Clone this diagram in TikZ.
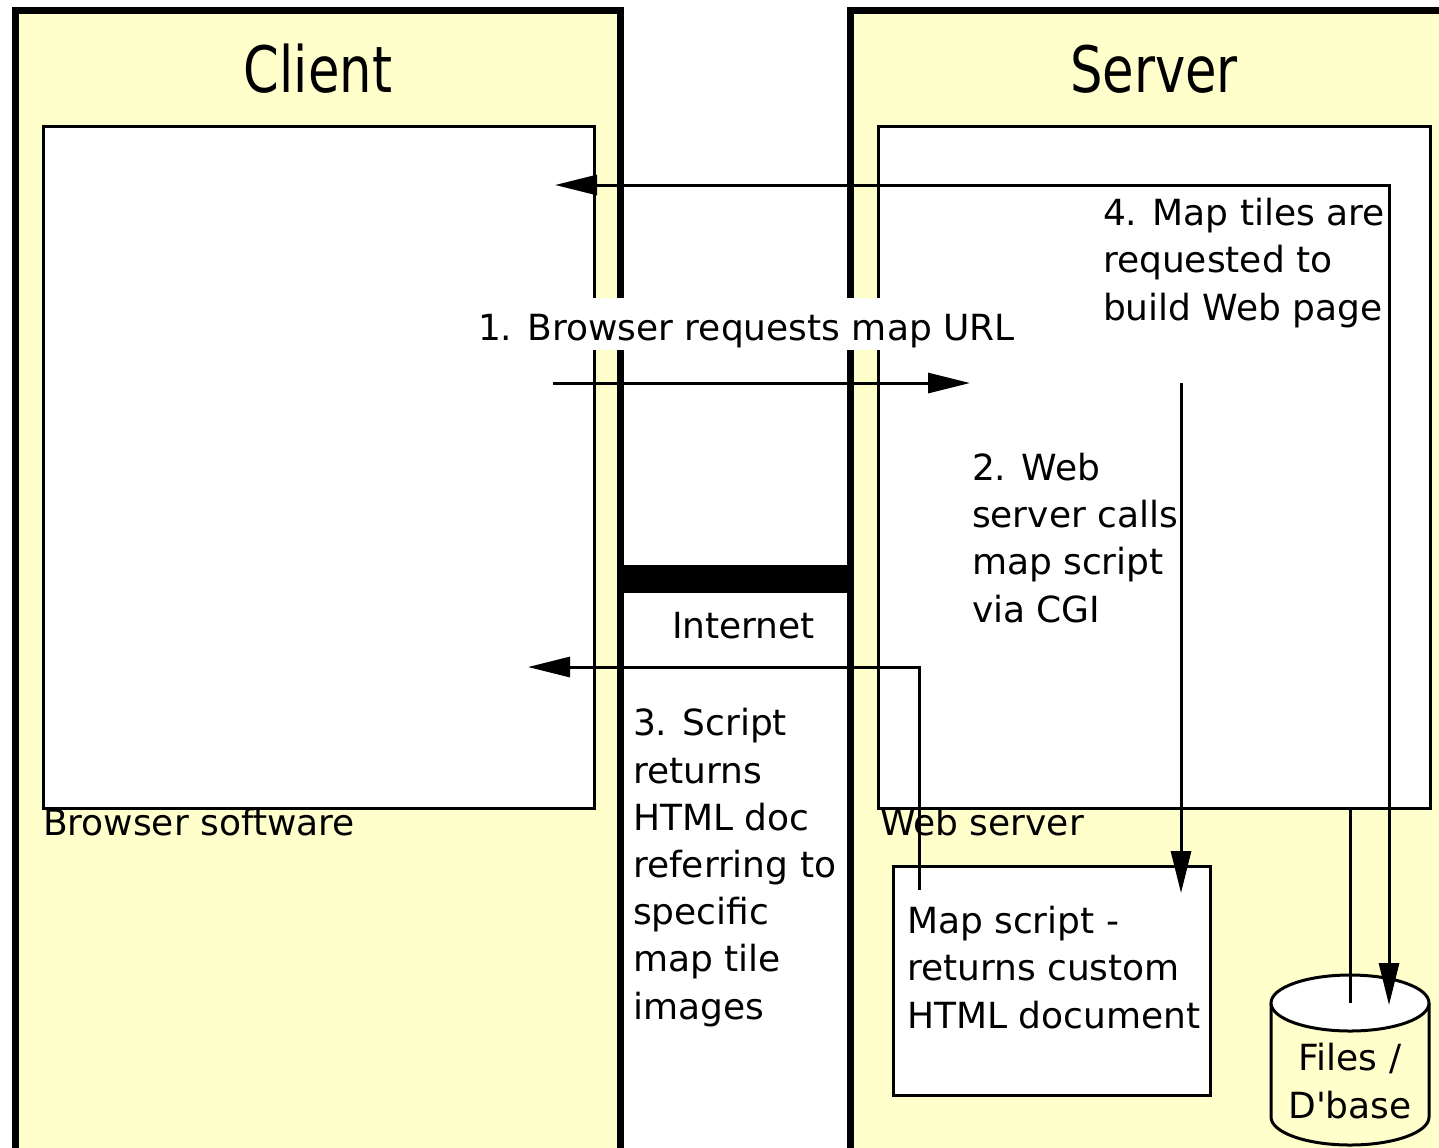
\documentclass[tikz,border=0pt]{standalone}
\usepackage{fontspec}
\setmainfont{DejaVu Sans}
\newfontfamily\titlefont[FakeStretch=0.8]{DejaVu Sans}
\usetikzlibrary{arrows.meta}
\definecolor{sideyellow}{RGB}{255,255,204}

\begin{document}
\begin{tikzpicture}[
        x=0.5pt,
        y=-0.5pt,
        >={Triangle[length=21pt,width=10pt]},
        every node/.style={font=\fontsize{18pt}{23.6pt}\selectfont, inner sep=0pt, outer sep=0pt},
        side/.style={draw, line width=3.5pt, fill=sideyellow, anchor=north west},
        softbox/.style={draw, line width=1.5pt, fill=white, anchor=north west},
        sidetitle/.style={font=\titlefont\fontsize{32pt}{38pt}\selectfont, anchor=base},
        txt/.style={anchor=base west, align=left},
        flow/.style={line width=1.5pt}
    ]
        \useasboundingbox (0,0) rectangle (1439,1147);

        % Client and server sides
        \node[side, minimum width=302.25pt, minimum height=585pt] (client) at (15.5,10) {};
        \node[side, minimum width=310pt, minimum height=585pt] (server) at (850,10) {};
        \node[sidetitle] (clienttitle) at (318,92) {Client};
        \node[sidetitle] (servertitle) at (1154,92) {Server};

        % Software boxes
        \node[softbox, minimum width=275.5pt, minimum height=341pt] (browser) at (43.5,126) {};
        \node[softbox, minimum width=275.75pt, minimum height=341pt] (websrv) at (878.5,126) {};
        \node[softbox, minimum width=158.5pt, minimum height=114.5pt] (mapscript) at (893,866) {};

        % Internet link
        \node[fill, anchor=north west, minimum width=113.5pt, minimum height=14pt] (net) at (622,565) {};

        % Files / D'base cylinder
        \coordinate (dbtop) at (1350,1003);
        \draw[flow, fill=sideyellow] (1271,1003) -- (1271,1117)
            arc[start angle=180, end angle=360, x radius=39.5pt, y radius=14pt] -- (1429,1003);
        \draw[flow, fill=white] (dbtop) ellipse[x radius=39.5pt, y radius=14pt];
        \node[align=center, anchor=base] (dbase) at (1350,1118) {Files /\\D\textquotesingle base};

        % Arrow ends
        \coordinate (reqstart) at (553,383);
        \coordinate (reqend) at (970,383);
        \coordinate (callstart) at (1181,383);
        \coordinate (callend) at (1181,893);
        \coordinate (retstart) at (919,890);
        \coordinate (retend) at (528,667);
        \coordinate (tilestart) at (1389,1005);
        \coordinate (tileend) at (555,185);

        % Flows
        \draw[flow, ->] (reqstart) -- (reqend);
        \draw[flow, ->] (callstart) -- (callend);
        \draw[flow, ->] (retstart) |- (retend);
        \draw[flow, <->] (tilestart) |- (tileend);
        \draw[flow] (websrv.south -| dbtop) -- (dbtop);

        % Step labels (anchored on their last line)
        \node[txt, fill=white, text height=21pt, text depth=5pt, inner xsep=2pt] (reqlabel) at (474,340) {1. Browser requests map URL};
        \node[txt] (calllabel) at (972,622) {2. Web\\server calls\\map script\\via CGI};
        \node[txt] (retlabel) at (633,1019) {3. Script\\returns\\HTML doc\\referring to\\specific\\map tile\\images};
        \node[txt] (tileslabel) at (1103,320) {4. Map tiles are\\requested to\\build Web page};

        % Box labels
        \node[txt] (netlabel) at (672,638) {Internet};
        \node[txt] (browserlabel) at (43,835) {Browser software};
        \node[txt] (websrvlabel) at (880,835) {Web server};
        \node[txt] (scriptlabel) at (907,1028) {Map script -\\returns custom\\HTML document};
    \end{tikzpicture}
\end{document}
